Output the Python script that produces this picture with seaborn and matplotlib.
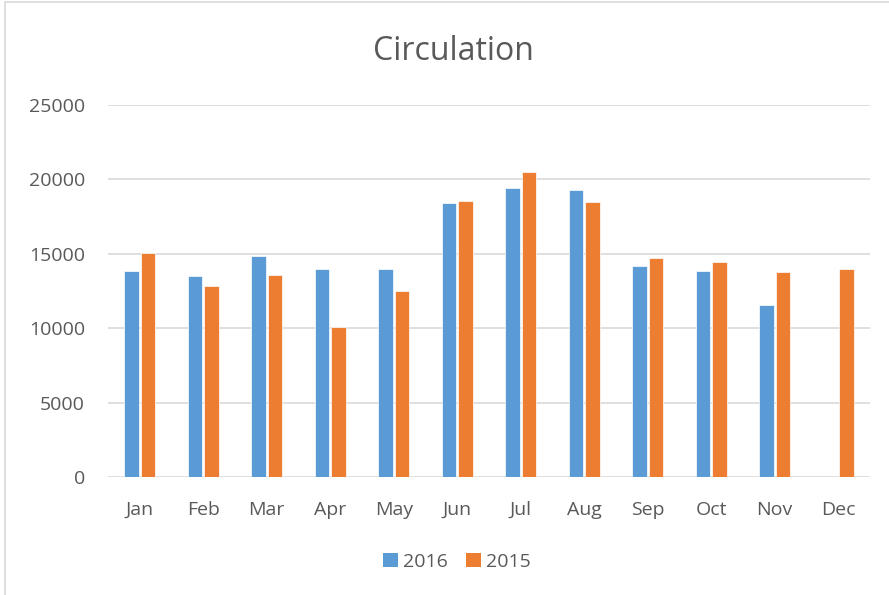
import numpy as np
import pandas as pd
import matplotlib
matplotlib.use("Agg")
import matplotlib.pyplot as plt
import seaborn as sns
from matplotlib.patches import Rectangle, Patch

months = ["Jan", "Feb", "Mar", "Apr", "May", "Jun", "Jul", "Aug", "Sep", "Oct", "Nov", "Dec"]
circ_2016 = [13850, 13540, 14870, 13970, 13970, 18410, 19440, 19280, 14170, 13860, 11550, np.nan]
circ_2015 = [15050, 12840, 13560, 10070, 12500, 18520, 20470, 18470, 14750, 14420, 13750, 13970]
series = ["2016", "2015"]
yticks = [0, 5000, 10000, 15000, 20000, 25000]

df = pd.DataFrame({
    "Month": months * 2,
    "Year": [series[0]] * 12 + [series[1]] * 12,
    "Circulation": circ_2016 + circ_2015,
})

sns.set_theme(style="white")
plt.rcParams["font.family"] = ["Open Sans", "DejaVu Sans"]

text_color = "#595959"
colors = {"2016": "#5B9BD5", "2015": "#ED7D31"}

fig = plt.figure(figsize=(8.89, 5.95), dpi=100)
ax = fig.add_axes([108 / 889, 1 - 477 / 595, (870 - 108) / 889, (477 - 105) / 595])

sns.barplot(data=df, x="Month", y="Circulation", hue="Year", hue_order=series,
            palette=colors, saturation=1, width=0.52, gap=0.12, ax=ax, legend=False,
            edgecolor="white", linewidth=0.5, zorder=3)

ax.set_xlim(-0.5, 11.5)
ax.set_ylim(0, 25000)
ax.set_yticks(yticks)
ax.set_yticklabels([str(v) for v in yticks])
ax.set_xlabel("")
ax.set_ylabel("")
for s in ax.spines.values():
    s.set_visible(False)
ax.yaxis.grid(True, color="#D9D9D9", linewidth=1.2, zorder=0)
ax.set_axisbelow(True)
ax.tick_params(axis="both", length=0, colors=text_color, labelsize=14)
ax.tick_params(axis="y", pad=16.5)
ax.tick_params(axis="x", pad=17)

fig.text(453 / 889, 1 - 52 / 595, "Circulation", ha="center", va="center",
         fontsize=23, color=text_color)

handles = [Patch(facecolor=colors[s], edgecolor="none") for s in series]
fig.legend(handles, series, loc="center", bbox_to_anchor=(457 / 889, 1 - 562 / 595),
           ncol=2, frameon=False, fontsize=14, labelcolor=text_color,
           handlelength=0.77, handleheight=0.77, handletextpad=0.28, columnspacing=0.9)

# chart border
fig.add_artist(Rectangle((5 / 889, -0.01), 1.0, 1 - 2 / 595 + 0.01, transform=fig.transFigure,
                         fill=False, edgecolor="#D9D9D9", linewidth=1.2))

fig.savefig("out.png", dpi=100, facecolor="white")
